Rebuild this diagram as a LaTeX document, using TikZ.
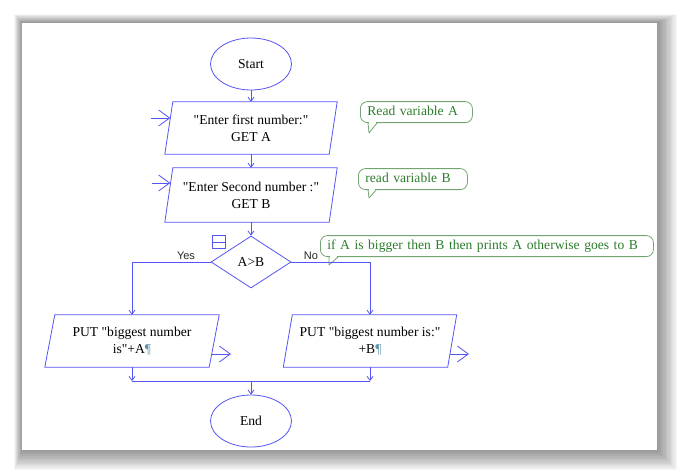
\documentclass[tikz,border=0pt]{standalone}
\usepackage{fontspec}
\setmainfont{Liberation Serif}
\newfontfamily\labelfont{Liberation Sans}
\usetikzlibrary{shapes.geometric,arrows.meta,calc}
\definecolor{fcblue}{RGB}{85,85,245}
\definecolor{cgreen}{RGB}{45,125,45}
\definecolor{cborder}{RGB}{115,165,115}
\definecolor{pil}{RGB}{95,150,170}
\newcommand\dq{\XeTeXglyph\XeTeXcharglyph"0022\relax}
\newcommand\ioshape[2]{\draw[plain] ([xshift=#2pt]#1.north west) -- ([xshift=#2pt]#1.north east) -- ([xshift=-#2pt]#1.south east) -- ([xshift=-#2pt]#1.south west) -- cycle;}
\newcommand\calltail[5]{%
  \fill[white] ($(#1.south west)+(#2+0.6,-1.3)$) rectangle ($(#1.south west)+(#3-0.6,0.9)$);
  \draw[cborder, line width=0.8pt, line join=round] ($(#1.south west)+(#2,0)$) -- ($(#1.south west)+(#4,#5)$) -- ($(#1.south west)+(#3,0)$);}
\begin{document}
\begin{tikzpicture}[x=1pt,y=-1pt,
  font=\fontsize{13.6}{17}\selectfont,
  plain/.style={draw=fcblue, line width=0.8pt},
  flow/.style={plain, -{Straight Barb[length=4pt,width=6pt]}},
  bigarrow/.style={plain, -{Straight Barb[length=11pt,width=16pt]}},
  term/.style={ellipse, plain, minimum width=81pt, minimum height=52pt, inner sep=0pt},
  iobox/.style={minimum width=164pt, minimum height=#1, inner sep=0pt, align=center},
  iobox/.default=52pt,
  decision/.style={diamond, plain, minimum width=80pt, minimum height=52pt, inner sep=0pt},
  callout/.style={draw=cborder, line width=0.8pt, rounded corners=7pt, text=cgreen,
     inner xsep=7pt, inner ysep=0pt, text height=10pt, text depth=3pt, minimum height=21pt,
     align=left, fill=white, anchor=south west},
  branch/.style={font=\labelfont\fontsize{11}{13}\selectfont, text=black!85}
]
\useasboundingbox (0,0) rectangle (680,474);
% page shadow
\foreach \i in {1,...,16} {
  \fill[black, opacity=0.03] (22-0.5*\i, 23-0.55*\i) rectangle (657+1.25*\i, 450+1.25*\i);
}
\fill[white] (22,23) rectangle (657,450);

% nodes
\node[term] (start) at (251,64) {Start};
\node[iobox] (in1) at (251,128) {\dq Enter first number:\dq\\GET A};
\ioshape{in1}{4}
\node[iobox=54pt] (in2) at (251,195) {\dq Enter Second number :\dq\\GET B};
\ioshape{in2}{4}
\node[decision] (dec) at (251,262) {A>B};
\node[draw=fcblue, line width=0.8pt, minimum size=13pt, inner sep=0pt] (icon) at (218.5,242) {};
\draw[plain] (icon.west) -- (icon.east);
\node[branch] (yes) at (186,256) {Yes};
\node[branch] (no) at (311,256) {No};
\node[iobox] (pa) at (132,341) {PUT \dq biggest number\\is\dq+A\textcolor{pil}{¶}};
\ioshape{pa}{5}
\node[iobox] (pb) at (370,341) {PUT \dq biggest number is:\dq\\+B\textcolor{pil}{¶}};
\ioshape{pb}{4.5}
\node[term] (end) at (251,421) {End};

% callouts
\node[callout, text width=98pt] (c1) at (360,123) {Read variable A};
\calltail{c1}{8}{17}{9}{10}
\node[callout, text width=95pt] (c2) at (358,190) {read variable B};
\calltail{c2}{10}{18}{11}{8}
\node[callout, text width=319pt] (c3) at (320,257) {\mbox{if A is bigger then B then prints A otherwise goes to B}};
\calltail{c3}{9}{18}{9}{8}

% connectors
\draw[flow] (start) -- (in1);
\draw[flow] (in1) -- (in2);
\draw[flow] (in2) -- (dec);
\draw[flow] (dec.west) -| (pa.north);
\draw[flow] (dec.east) -| (pb.north);
\coordinate (jn) at (251,381);
\draw[flow] (pa.south) -- (pa.south |- jn);
\draw[flow] (pb.south) -- (pb.south |- jn);
\draw[plain] (pa.south |- jn) -- (pb.south |- jn);
\draw[flow] (jn) -- (end);

% entry / exit arrows
\coordinate (e1) at (151,118);
\draw[bigarrow] (e1) -- ([xshift=1.5pt,yshift=10pt]in1.west);
\coordinate (e2) at (152,183);
\draw[bigarrow] (e2) -- ([xshift=1.5pt,yshift=12pt]in2.west);
\coordinate (xa) at (231,354);
\draw[bigarrow] ([xshift=-2.5pt,yshift=-13pt]pa.east) -- (xa);
\coordinate (xb) at (469,354);
\draw[bigarrow] ([xshift=-2.3pt,yshift=-13pt]pb.east) -- (xb);
\end{tikzpicture}
\end{document}
